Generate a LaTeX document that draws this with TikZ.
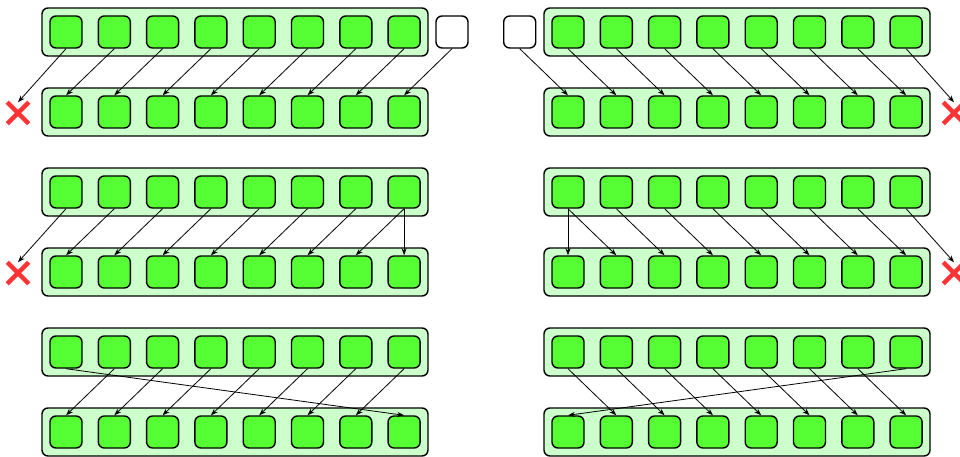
\documentclass[tikz,border=0pt]{standalone}
\usetikzlibrary{arrows.meta,shapes.misc}
\definecolor{cellgreen}{HTML}{55FF33}
\definecolor{panelgreen}{HTML}{CCFFCC}
\definecolor{xred}{HTML}{FF3333}
\tikzset{
 cell/.style={draw=black, fill=cellgreen, line width=1.4pt, rounded corners=6pt, minimum size=32pt, inner sep=0pt},
 emptycell/.style={cell, fill=white},
 panel/.style={draw=black, fill=panelgreen, line width=1.4pt, rounded corners=6pt, minimum width=386pt, minimum height=48pt, inner sep=0pt},
 xmark/.style={draw=xred, cross out, line width=4.5pt, minimum size=17pt, inner sep=0pt},
 link/.style={-{Stealth[length=7pt,width=5pt]}, line width=0.8pt}
}
\begin{document}
\begin{tikzpicture}[x=1pt,y=-1pt]
\useasboundingbox (0,0) rectangle (960,457);
\foreach \r/\y in {0/32,1/112,2/192,3/272,4/352,5/432}{
  \node[panel] (PL\r) at (235,\y) {};
  \node[panel] (PR\r) at (737,\y) {};
  \foreach \i in {1,...,8}{
    \node[cell] (L\r-\i) at ({66+(\i-1)*48.3},\y) {};
    \node[cell] (R\r-\i) at ({568+(\i-1)*48.3},\y) {};
  }
}
\node[emptycell] (WL) at (452,32) {};
\node[emptycell] (WR) at (519.7,32) {};
\node[xmark] (XL0) at (18,113) {};
\node[xmark] (XR0) at (954,113) {};
\node[xmark] (XL1) at (18,273) {};
\node[xmark] (XR1) at (954,273) {};
% panel 1
\draw[link] (L0-1.south) -- (XL0.north);
\foreach \i/\j in {2/1,3/2,4/3,5/4,6/5,7/6,8/7}{
  \draw[link] (L0-\i.south) -- (L1-\j.north);
  \draw[link] (L2-\i.south) -- (L3-\j.north);
  \draw[link] (L4-\i.south) -- (L5-\j.north);
  \draw[link] (R0-\j.south) -- (R1-\i.north);
  \draw[link] (R2-\j.south) -- (R3-\i.north);
  \draw[link] (R4-\j.south) -- (R5-\i.north);
}
\draw[link] (WL.south) -- (L1-8.north);
\draw[link] (WR.south) -- (R1-1.north);
\draw[link] (R0-8.south) -- (XR0.north);
% panel 2
\draw[link] (L2-1.south) -- (XL1.north);
\draw[link] (L2-8.south) -- (L3-8.north);
\draw[link] (R2-1.south) -- (R3-1.north);
\draw[link] (R2-8.south) -- (XR1.north);
% panel 3
\draw[link] (L4-1.south) -- (L5-8.north);
\draw[link] (R4-8.south) -- (R5-1.north);
\end{tikzpicture}
\end{document}
